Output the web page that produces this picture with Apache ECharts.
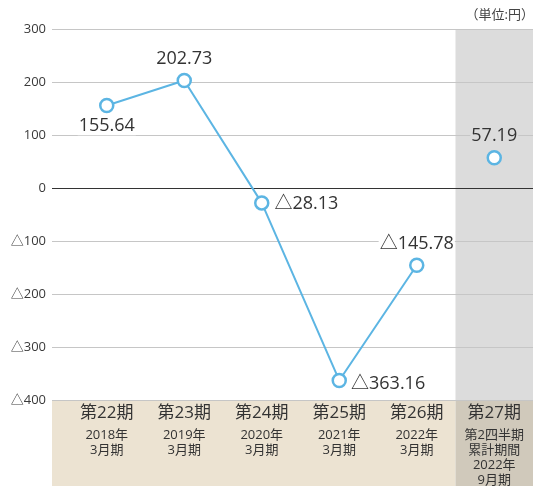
<!DOCTYPE html>
<html><head><meta charset="utf-8">
<script src="https://cdn.jsdelivr.net/npm/echarts@6/dist/echarts.min.js"></script>
<style>html,body{margin:0;padding:0;background:#fff}#c{width:542px;height:486px}</style>
</head><body><div id="c"></div>
<script>
const categories = ['第22期','第23期','第24期','第25期','第26期','第27期'];
const subLabels = ['2018年\n3月期','2019年\n3月期','2020年\n3月期','2021年\n3月期','2022年\n3月期','第2四半期\n累計期間\n2022年\n9月期'];
const annualValues = [155.64, 202.73, -28.13, -363.16, -145.78, null];
const halfValues = [null, null, null, null, null, 57.19];
const labelPos = ['bottom','top','right','right','top','top'];
const yMin = -400, yMax = 300, yStep = 100;
const unitText = '（単位:円）';

const FONT = '"Open Sans", "Noto Sans CJK JP", sans-serif';
const fmt = v => v < 0 ? '△' + Math.abs(v).toFixed(2) : v.toFixed(2);
const lineColor = '#5cb5e3';

function mkData(arr, bg) {
  return arr.map((v, i) => v == null ? null : {
    value: v,
    label: {
      position: labelPos[i],
      offset: i === 0 ? [0, -1] : (i === 2 ? [-1, 1] : (i === 3 ? [-2, 3] : [0, 0])),
      backgroundColor: bg, padding: [0, 1]
    }
  });
}

const splitColors = [];
for (let v = yMin; v <= yMax; v += yStep) splitColors.push(v === 0 ? '#333' : '#c6c6c6');

const chart = echarts.init(document.getElementById('c'), null, {renderer: 'canvas'});
chart.setOption({
  animation: false,
  backgroundColor: '#fff',
  textStyle: {fontFamily: FONT},
  grid: [
    {left: 68, right: 9, top: 29, bottom: 86, containLabel: false, outerBoundsMode: 'none'},
    {left: 52, right: 9, top: 29, bottom: 86, containLabel: false, outerBoundsMode: 'none'}
  ],
  xAxis: [
    {
      type: 'category', gridIndex: 0, data: categories, boundaryGap: true,
      axisLine: {show: false}, axisTick: {show: false}, splitLine: {show: false},
      axisLabel: {
        margin: 6, interval: 0,
        formatter: (v, i) => '{a|' + v + '}\n' + subLabels[i].split('\n').map(s => '{b|' + s + '}').join('\n'),
        rich: {
          a: {fontSize: 17, color: '#333', lineHeight: 22, padding: [0, 0, 8, 0], fontFamily: FONT},
          b: {fontSize: 13, color: '#333', lineHeight: 15, fontFamily: FONT}
        }
      }
    },
    {type: 'value', gridIndex: 1, min: 0, max: 1, show: false}
  ],
  yAxis: [
    {type: 'value', gridIndex: 0, min: yMin, max: yMax, interval: yStep, show: false, splitLine: {show: false}},
    {
      type: 'value', gridIndex: 1, min: yMin, max: yMax, interval: yStep,
      axisLine: {show: false}, axisTick: {show: false},
      axisLabel: {margin: 6, color: '#3a3a3a', fontSize: 13, fontFamily: FONT,
        formatter: v => v < 0 ? '△' + Math.abs(v) : String(v)},
      splitLine: {lineStyle: {color: splitColors, width: 1}}
    }
  ],
  series: [
    {
      type: 'line', xAxisIndex: 0, yAxisIndex: 0, data: mkData(annualValues, '#fff'),
      symbol: 'circle', symbolSize: 13, showAllSymbol: true,
      lineStyle: {color: lineColor, width: 2},
      itemStyle: {color: '#fff', borderColor: lineColor, borderWidth: 2.5},
      label: {show: true, formatter: p => fmt(p.value), fontSize: 18, color: '#333', distance: 5, fontFamily: FONT},
      z: 5
    },
    {
      type: 'line', xAxisIndex: 0, yAxisIndex: 0, data: mkData(halfValues, '#dcdcdc'),
      symbol: 'circle', symbolSize: 13, showAllSymbol: true,
      lineStyle: {color: lineColor, width: 2},
      itemStyle: {color: '#fff', borderColor: lineColor, borderWidth: 2.5},
      label: {show: true, formatter: p => fmt(p.value), fontSize: 18, color: '#333', distance: 5, fontFamily: FONT},
      z: 5
    }
  ]
});

// background bands derived from the axes' scales
const cx0 = chart.convertToPixel({xAxisIndex: 0}, 0);
const cx1 = chart.convertToPixel({xAxisIndex: 0}, 1);
const bw = cx1 - cx0;
const cLast = chart.convertToPixel({xAxisIndex: 0}, categories.length - 1);
const yTop = chart.convertToPixel({yAxisIndex: 0}, yMax);
const yBot = chart.convertToPixel({yAxisIndex: 0}, yMin);
const xLeft = chart.convertToPixel({xAxisIndex: 1}, 0);
const H = chart.getHeight();
chart.setOption({
  graphic: [
    {type: 'rect', z: -10, silent: true, shape: {x: cLast - bw / 2, y: yTop, width: bw, height: yBot - yTop}, style: {fill: '#dcdcdc'}},
    {type: 'rect', z: -10, silent: true, shape: {x: xLeft, y: yBot, width: cLast - bw / 2 - xLeft, height: H - yBot}, style: {fill: '#ece3d2'}},
    {type: 'rect', z: -10, silent: true, shape: {x: cLast - bw / 2, y: yBot, width: bw, height: H - yBot}, style: {fill: '#d0c9bb'}},
    {type: 'text', z: 10, silent: true, style: {text: unitText, x: cLast + bw / 2 + 1, y: 15, align: 'right', verticalAlign: 'middle', fill: '#444', font: '13px ' + FONT}}
  ]
});
</script></body></html>
